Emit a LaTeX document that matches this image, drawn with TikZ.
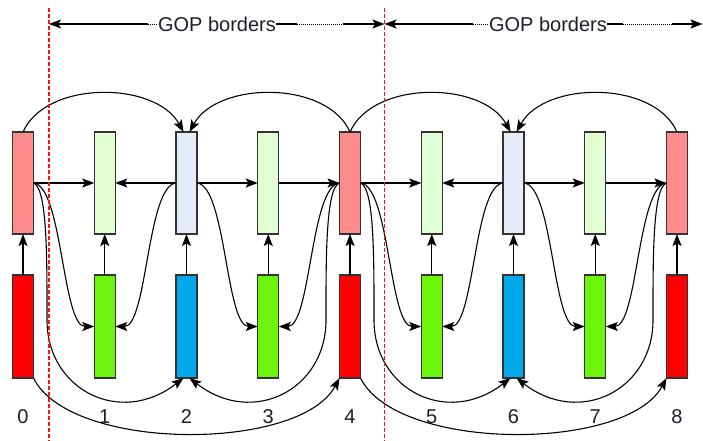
\documentclass[tikz,border=0pt]{standalone}
\usepackage{fontspec}
\setmainfont{Liberation Sans}
\usetikzlibrary{arrows.meta}
\definecolor{boxline}{HTML}{333333}
\definecolor{salU}{HTML}{FF8C8C}
\definecolor{grnU}{HTML}{E2FFD4}
\definecolor{bluU}{HTML}{E6ECF7}
\definecolor{redL}{HTML}{FF0000}
\definecolor{grnL}{HTML}{6CF40C}
\definecolor{bluL}{HTML}{00A8EC}
\definecolor{txt}{HTML}{1E1E2A}
\definecolor{bordred}{HTML}{FF1010}
\begin{document}
\begin{tikzpicture}[x=1pt,y=-1pt,
  box/.style={draw=boxline, line width=1.3pt, minimum width=21pt, inner sep=0pt, outer sep=0pt},
  upbox/.style={box, minimum height=102pt},
  lobox/.style={box, minimum height=103pt},
  conn/.style={line width=1.1pt, draw=black},
  arr/.style={conn, -{Stealth[length=12pt,width=9pt,inset=2.5pt]}},
  lbl/.style={font=\fontsize{20}{20}\selectfont, text=txt, inner sep=0pt},
  gop/.style={font=\fontsize{20}{20}\selectfont, text=txt, inner sep=0pt},
  border/.style={draw=bordred, line width=1.4pt, dash pattern=on 4pt off 2pt},
  fine/.style={line width=0.8pt, dash pattern=on 1pt off 1pt},
]
\useasboundingbox (0,0) rectangle (703,441);

% boxes, labels, vertical arrows
\foreach \i/\uc/\lc in {0/salU/redL,1/grnU/grnL,2/bluU/bluL,3/grnU/grnL,4/salU/redL,5/grnU/grnL,6/bluU/bluL,7/grnU/grnL,8/salU/redL}{
  \node[upbox, fill=\uc] (u\i) at ({23+81.75*\i},183) {};
  \node[lobox, fill=\lc] (l\i) at ({23+81.75*\i},326.5) {};
  \node[lbl] (n\i) at ({23+81.75*\i},417) {\i};
  \draw[arr] (l\i.north) -- (u\i.south);
}

% horizontal arrows
\draw[arr] (u0.east) -- (u1.west);
\draw[arr] (u2.west) -- (u1.east);
\draw[arr] (u2.east) -- (u3.west);
\draw[arr] (u3.east) -- (u4.west);
\draw[arr] (u4.east) -- (u5.west);
\draw[arr] (u6.west) -- (u5.east);
\draw[arr] (u6.east) -- (u7.west);
\draw[arr] (u7.east) -- (u8.west);

% top arcs
\draw[arr] (u0.north) .. controls +(23,-52) and +(-28,-51) .. ([xshift=-3pt]u2.north);
\draw[arr] (u4.north) .. controls +(-23,-52) and +(28,-51) .. ([xshift=3pt]u2.north);
\draw[arr] (u4.north) .. controls +(23,-52) and +(-28,-51) .. ([xshift=-3pt]u6.north);
\draw[arr] (u8.north) .. controls +(-23,-52) and +(28,-51) .. ([xshift=3pt]u6.north);

% side curves to the lower boxes
\draw[arr] (u0.east) .. controls +(29,3) and +(-32,0) .. (l1.west);
\draw[arr] (u2.west) .. controls +(-29,3) and +(32,0) .. (l1.east);
\draw[arr] (u2.east) .. controls +(29,3) and +(-32,0) .. (l3.west);
\draw[arr] (u4.west) .. controls +(-29,3) and +(32,0) .. (l3.east);
\draw[arr] (u4.east) .. controls +(29,3) and +(-32,0) .. (l5.west);
\draw[arr] (u6.west) .. controls +(-29,3) and +(32,0) .. (l5.east);
\draw[arr] (u6.east) .. controls +(29,3) and +(-32,0) .. (l7.west);
\draw[arr] (u8.west) .. controls +(-29,3) and +(32,0) .. (l7.east);

% long curves to the bottom of lower boxes 2 and 6
\draw[arr] (u0.east) .. controls +(14,5) and +(0,-60) .. ++(13.5,137)
  .. controls +(0,70) and +(-63,49) .. ([xshift=-3pt]l2.south);
\draw[arr] (u4.west) .. controls +(-14,5) and +(0,-60) .. ++(-13.5,137)
  .. controls +(0,70) and +(63,49) .. ([xshift=3pt]l2.south);
\draw[arr] (u4.east) .. controls +(14,5) and +(0,-60) .. ++(13.5,137)
  .. controls +(0,70) and +(-63,49) .. ([xshift=-3pt]l6.south);
\draw[arr] (u8.west) .. controls +(-14,5) and +(0,-60) .. ++(-13.5,137)
  .. controls +(0,70) and +(63,49) .. ([xshift=3pt]l6.south);

% bottom curves between lower key boxes
\draw[arr] (l0.south east) .. controls +(36.5,74) and +(-39.5,74) .. (l4.south west);
\draw[arr] (l4.south east) .. controls +(36.5,74) and +(-39.5,74) .. (l8.south west);

% GOP borders
\coordinate (bA) at (49,24);
\coordinate (bB) at (384.5,24);
\coordinate (bC) at (702.5,24);
\coordinate (d1) at (148,24);
\coordinate (d2) at (297,24);
\coordinate (d3) at (343,24);
\coordinate (e1) at (473,24);
\coordinate (e2) at (623,24);
\coordinate (e3) at (672,24);
\node[gop] (g1) at (217,24) {GOP borders};
\node[gop] (g2) at (548,24) {GOP borders};
\draw[arr] (d1) -- (bA);
\draw[fine] (d1) -- (g1.west);
\draw[conn] (g1.east) -- (d2);
\draw[fine] (d2) -- (d3);
\draw[arr] (d3) -- (bB);
\draw[arr] (e1) -- (bB);
\draw[fine] (e1) -- (g2.west);
\draw[conn] (g2.east) -- (e2);
\draw[fine] (e2) -- (e3);
\draw[arr] (e3) -- (bC);

% red dashed borders
\draw[border] (49,8) -- (49,441);
\draw[border] (384.5,8) -- (384.5,441);
\end{tikzpicture}
\end{document}
